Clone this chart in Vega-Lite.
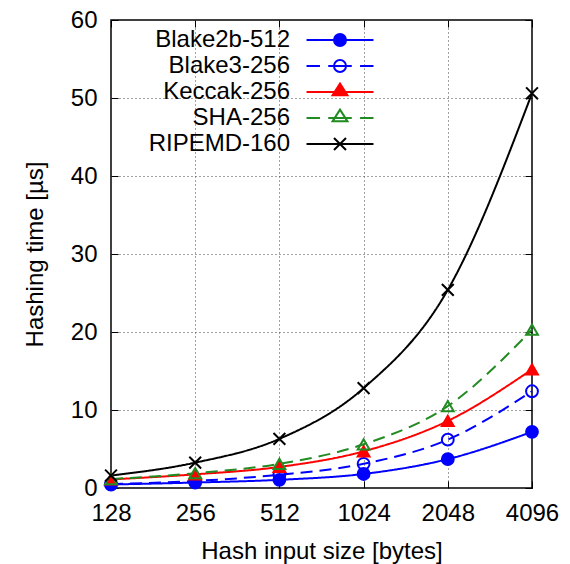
{
  "$schema": "https://vega.github.io/schema/vega-lite/v6.json",
  "width": 421,
  "height": 468,
  "autosize": {"type": "none"},
  "padding": {"left": 111, "top": 20, "right": 38, "bottom": 76},
  "background": "white",
  "config": {
    "view": {"stroke": "black", "strokeWidth": 1.5},
    "font": "Liberation Sans",
    "axis": {
      "labelFont": "Liberation Sans", "labelFontSize": 24, "labelColor": "black",
      "titleFont": "Liberation Sans", "titleFontSize": 24, "titleFontWeight": "normal", "titleColor": "black",
      "domain": false, "tickColor": "black", "tickSize": -7, "tickWidth": 1,
      "gridColor": "#444444", "gridDash": [1, 3], "gridWidth": 1, "gridOpacity": 1
    },
    "legend": {
      "orient": "none", "legendX": 216, "legendY": 7, "padding": 0,
      "labelFont": "Liberation Sans", "labelFontSize": 24, "labelColor": "black",
      "labelAlign": "right", "labelOffset": -63, "labelLimit": 300,
      "symbolSize": 576, "symbolStrokeWidth": 2, "rowPadding": 1
    }
  },
  "data": {
    "values": [
      {"algo": "Blake2b-512", "size": 128, "time": 0.45},
      {"algo": "Blake2b-512", "size": 256, "time": 0.7},
      {"algo": "Blake2b-512", "size": 512, "time": 1.05},
      {"algo": "Blake2b-512", "size": 1024, "time": 1.8},
      {"algo": "Blake2b-512", "size": 2048, "time": 3.7},
      {"algo": "Blake2b-512", "size": 4096, "time": 7.2},
      {"algo": "Blake3-256", "size": 128, "time": 0.5},
      {"algo": "Blake3-256", "size": 256, "time": 0.9},
      {"algo": "Blake3-256", "size": 512, "time": 1.7},
      {"algo": "Blake3-256", "size": 1024, "time": 3.1},
      {"algo": "Blake3-256", "size": 2048, "time": 6.2},
      {"algo": "Blake3-256", "size": 4096, "time": 12.4},
      {"algo": "Keccak-256", "size": 128, "time": 1.1},
      {"algo": "Keccak-256", "size": 256, "time": 1.75},
      {"algo": "Keccak-256", "size": 512, "time": 2.7},
      {"algo": "Keccak-256", "size": 1024, "time": 4.7},
      {"algo": "Keccak-256", "size": 2048, "time": 8.6},
      {"algo": "Keccak-256", "size": 4096, "time": 15.2},
      {"algo": "SHA-256", "size": 128, "time": 1.15},
      {"algo": "SHA-256", "size": 256, "time": 1.9},
      {"algo": "SHA-256", "size": 512, "time": 3.1},
      {"algo": "SHA-256", "size": 1024, "time": 5.6},
      {"algo": "SHA-256", "size": 2048, "time": 10.5},
      {"algo": "SHA-256", "size": 4096, "time": 20.3},
      {"algo": "RIPEMD-160", "size": 128, "time": 1.6},
      {"algo": "RIPEMD-160", "size": 256, "time": 3.25},
      {"algo": "RIPEMD-160", "size": 512, "time": 6.3},
      {"algo": "RIPEMD-160", "size": 1024, "time": 12.8},
      {"algo": "RIPEMD-160", "size": 2048, "time": 25.4},
      {"algo": "RIPEMD-160", "size": 4096, "time": 50.6}
    ]
  },
  "layer": [
    {
      "mark": {"type": "line", "strokeWidth": 2, "interpolate": "monotone"},
      "encoding": {
        "x": {
          "field": "size", "type": "quantitative",
          "scale": {"type": "log", "base": 2, "domain": [128, 4096], "nice": false},
          "axis": {"orient": "bottom", "values": [128, 256, 512, 1024, 2048, 4096], "format": "d",
                   "title": "Hash input size [bytes]", "labelPadding": 20, "titlePadding": 14, "labelFlush": false}
        },
        "y": {
          "field": "time", "type": "quantitative",
          "scale": {"domain": [0, 60], "nice": false, "zero": true},
          "axis": {"orient": "left", "values": [0, 10, 20, 30, 40, 50, 60],
                   "title": "Hashing time [µs]", "labelPadding": 21, "titlePadding": 23}
        },
        "color": {
          "field": "algo", "type": "nominal",
          "scale": {"domain": ["Blake2b-512", "Blake3-256", "Keccak-256", "SHA-256", "RIPEMD-160"],
                    "range": ["#0000ff", "#0000ff", "#ff0000", "#228b22", "#000000"]},
          "legend": null
        },
        "strokeDash": {
          "field": "algo", "type": "nominal",
          "scale": {"domain": ["Blake2b-512", "Blake3-256", "Keccak-256", "SHA-256", "RIPEMD-160"],
                    "range": [[1, 0], [12, 7], [1, 0], [12, 7], [1, 0]]},
          "legend": null
        }
      }
    },
    {
      "mark": {"type": "point", "opacity": 1, "strokeWidth": 2, "size": 140},
      "encoding": {
        "x": {
          "field": "size", "type": "quantitative",
          "axis": {"orient": "top", "values": [128, 256, 512, 1024, 2048, 4096], "labels": false, "grid": false, "title": null}
        },
        "y": {
          "field": "time", "type": "quantitative",
          "axis": {"orient": "right", "values": [0, 10, 20, 30, 40, 50, 60], "labels": false, "grid": false, "title": null}
        },
        "shape": {
          "field": "algo", "type": "nominal",
          "scale": {"domain": ["Blake2b-512", "Blake3-256", "Keccak-256", "SHA-256", "RIPEMD-160"],
                    "range": ["circle", "circle", "triangle-up", "triangle-up", "M-1,-1L1,1M-1,1L1,-1"]},
          "legend": null
        },
        "stroke": {
          "field": "algo", "type": "nominal",
          "scale": {"domain": ["Blake2b-512", "Blake3-256", "Keccak-256", "SHA-256", "RIPEMD-160"],
                    "range": ["#0000ff", "#0000ff", "#ff0000", "#228b22", "#000000"]},
          "legend": null
        },
        "fill": {
          "field": "algo", "type": "nominal",
          "scale": {"domain": ["Blake2b-512", "Blake3-256", "Keccak-256", "SHA-256", "RIPEMD-160"],
                    "range": ["#0000ff", "transparent", "#ff0000", "transparent", "#000000"]},
          "legend": null
        }
      }
    },
    {
      "transform": [{"filter": "false"}],
      "mark": {"type": "point", "opacity": 1, "strokeWidth": 2},
      "encoding": {
        "shape": {
          "field": "algo", "type": "nominal",
          "scale": {"domain": ["Blake2b-512", "Blake3-256", "Keccak-256", "SHA-256", "RIPEMD-160"],
                    "range": [
                      "M-2.79,0L2.79,0M-0.5,0A0.5,0.5,0,1,0,0.5,0A0.5,0.5,0,1,0,-0.5,0Z",
                      "M-2.79,0L-1.67,0M-0.98,0L0.98,0M1.67,0L2.79,0M-0.5,0A0.5,0.5,0,1,0,0.5,0A0.5,0.5,0,1,0,-0.5,0Z",
                      "M-2.79,0L2.79,0M0,-0.7L0.62,0.28L-0.62,0.28Z",
                      "M-2.79,0L-1.67,0M-0.98,0L0.98,0M1.67,0L2.79,0M0,-0.7L0.62,0.28L-0.62,0.28Z",
                      "M-2.79,0L2.79,0M-0.5,-0.5L0.5,0.5M-0.5,0.5L0.5,-0.5"
                    ]},
          "legend": {"title": null}
        },
        "stroke": {
          "field": "algo", "type": "nominal",
          "scale": {"domain": ["Blake2b-512", "Blake3-256", "Keccak-256", "SHA-256", "RIPEMD-160"],
                    "range": ["#0000ff", "#0000ff", "#ff0000", "#228b22", "#000000"]},
          "legend": {"title": null}
        },
        "fill": {
          "field": "algo", "type": "nominal",
          "scale": {"domain": ["Blake2b-512", "Blake3-256", "Keccak-256", "SHA-256", "RIPEMD-160"],
                    "range": ["#0000ff", "transparent", "#ff0000", "transparent", "#000000"]},
          "legend": {"title": null}
        }
      }
    }
  ],
  "resolve": {"scale": {"shape": "independent", "stroke": "independent", "fill": "independent"}}
}
